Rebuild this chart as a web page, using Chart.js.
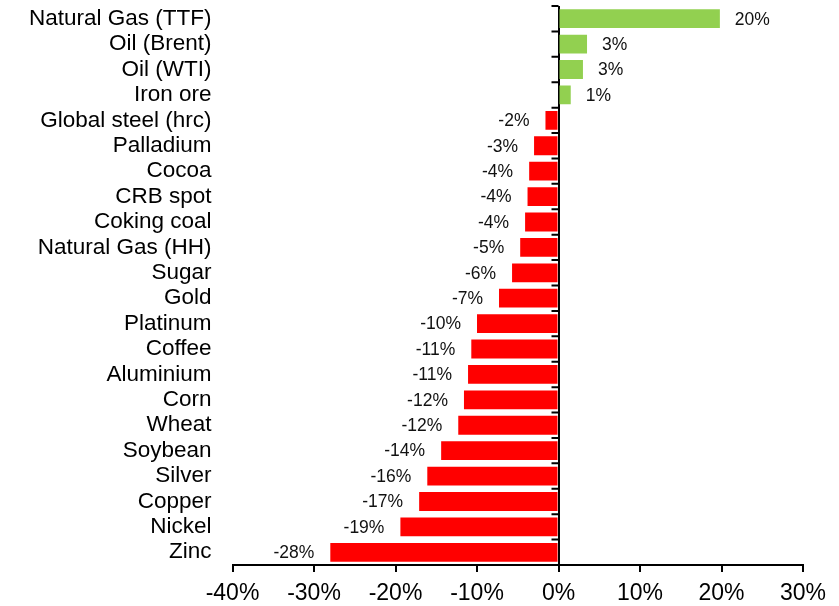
<!DOCTYPE html>
<html>
<head>
<meta charset="utf-8">
<script src="https://cdn.jsdelivr.net/npm/chart.js@4"></script>
<style>
  html, body { margin: 0; padding: 0; background: #fff; }
  #wrap { width: 839px; height: 606px; }
</style>
</head>
<body>
<div id="wrap"><canvas id="chart" width="839" height="606"></canvas></div>
<script>
const categories = [
  "Natural Gas (TTF)", "Oil (Brent)", "Oil (WTI)", "Iron ore", "Global steel (hrc)",
  "Palladium", "Cocoa", "CRB spot", "Coking coal", "Natural Gas (HH)", "Sugar",
  "Gold", "Platinum", "Coffee", "Aluminium", "Corn", "Wheat", "Soybean",
  "Silver", "Copper", "Nickel", "Zinc"
];

const changes = [
  19.8, 3.5, 3.0, 1.5, -1.6,
  -3.0, -3.6, -3.8, -4.1, -4.7, -5.7,
  -7.3, -10.0, -10.7, -11.1, -11.6, -12.3, -14.4,
  -16.1, -17.1, -19.4, -28.0
];

const valueLabels = [
  "20%", "3%", "3%", "1%", "-2%",
  "-3%", "-4%", "-4%", "-4%", "-5%", "-6%",
  "-7%", "-10%", "-11%", "-11%", "-12%", "-12%", "-14%",
  "-16%", "-17%", "-19%", "-28%"
];

const xTicks = [-40, -30, -20, -10, 0, 10, 20, 30];

const GREEN = "#92D050";
const RED = "#FF0000";
const FONT = "'Liberation Sans', Arial, sans-serif";

// value labels next to each bar
const barLabels = {
  id: "barLabels",
  afterDatasetsDraw(chart) {
    const ctx = chart.ctx;
    const meta = chart.getDatasetMeta(0);
    ctx.save();
    ctx.font = "17.5px " + FONT;
    ctx.fillStyle = "#111";
    ctx.textBaseline = "middle";
    meta.data.forEach((bar, i) => {
      if (changes[i] >= 0) {
        ctx.textAlign = "left";
        ctx.fillText(valueLabels[i], bar.x + 15, bar.y + 1);
      } else {
        ctx.textAlign = "right";
        ctx.fillText(valueLabels[i], bar.x - 16, bar.y + 1);
      }
    });
    ctx.restore();
  }
};

// small ticks on the zero line, between categories
const zeroTicks = {
  id: "zeroTicks",
  afterDraw(chart) {
    const ctx = chart.ctx;
    const x0 = chart.scales.x.getPixelForValue(0);
    const y = chart.scales.y;
    const step = (y.bottom - y.top) / categories.length;
    ctx.save();
    ctx.strokeStyle = "#000";
    ctx.lineWidth = 2;
    ctx.beginPath();
    for (let i = 0; i <= categories.length; i++) {
      const py = y.top + i * step;
      ctx.moveTo(x0 - 7, py);
      ctx.lineTo(x0, py);
    }
    ctx.stroke();
    ctx.restore();
  }
};

const ctx = document.getElementById("chart").getContext("2d");

new Chart(ctx, {
  type: "bar",
  data: {
    labels: categories,
    datasets: [{
      data: changes,
      backgroundColor: changes.map(v => v >= 0 ? GREEN : RED),
      borderWidth: 0,
      barPercentage: 0.74,
      categoryPercentage: 1
    }]
  },
  options: {
    indexAxis: "y",
    responsive: false,
    animation: false,
    layout: { padding: { top: 6, right: 36, left: 8, bottom: 0 } },
    plugins: {
      legend: { display: false },
      tooltip: { enabled: false }
    },
    scales: {
      x: {
        min: -40,
        max: 30,
        afterBuildTicks: (axis) => { axis.ticks = xTicks.map(v => ({ value: v })); },
        afterFit: (axis) => { axis.paddingLeft = 0; axis.paddingRight = 0; axis.height = 41; },
        border: { display: true, color: "#000", width: 2 },
        grid: {
          color: (c) => c.tick && c.tick.value === 0 ? "#000" : "rgba(0,0,0,0)",
          lineWidth: 2,
          tickColor: "#000",
          tickLength: 7,
          tickWidth: 2
        },
        ticks: {
          color: "#000",
          font: { family: FONT, size: 23 },
          padding: 8,
          maxRotation: 0,
          callback: (v) => v + "%"
        }
      },
      y: {
        afterFit: (axis) => { axis.paddingTop = 0; axis.paddingBottom = 0; },
        border: { display: false },
        grid: { display: false, drawTicks: false, tickLength: 0 },
        ticks: {
          color: "#000",
          font: { family: FONT, size: 22.5 },
          padding: 21,
          autoSkip: false
        }
      }
    }
  },
  plugins: [barLabels, zeroTicks]
});
</script>
</body>
</html>
